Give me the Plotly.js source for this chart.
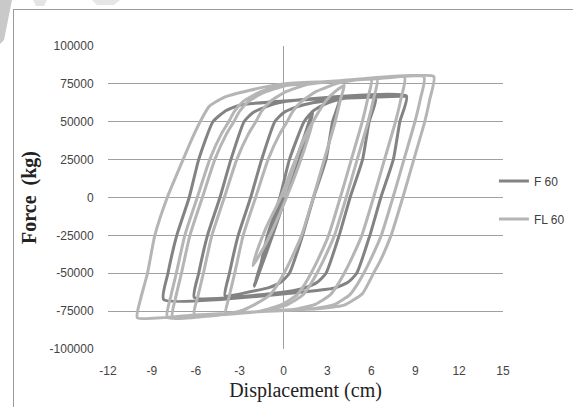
<!DOCTYPE html>
<html>
<head>
<meta charset="utf-8">
<script src="https://cdn.plot.ly/plotly-3.0.1.min.js"></script>
<style>
  html, body { margin: 0; padding: 0; background: #ffffff; }
  #wrap { position: relative; width: 573px; height: 407px; overflow: hidden; }
  #chart { position: absolute; left: 0; top: 0; width: 573px; height: 407px; }
  #frame { position: absolute; left: 13px; top: 9px; width: 700px; height: 500px;
           border-left: 1px solid #9a9a9a; border-top: 1px solid #9a9a9a; pointer-events: none; }
  #deco { position: absolute; left: 0; top: 0; pointer-events: none; }
</style>
</head>
<body>
<div id="wrap">
  <div id="chart"></div>
  <div id="frame"></div>
  <svg id="deco" width="130" height="45">
    <polygon points="0,0 12,0 4,40 0,44" fill="#c9c9c9"/>
    <polygon points="33,0 47,0 44,6 36,6" fill="#e4e4e4"/>
    <polygon points="92,0 120,0 114,5 97,5" fill="#e6e6e6"/>
  </svg>
</div>
<script>
// ---- data ----
const seriesNames = ["F 60", "FL 60"];

const f60X = [
  0, 0.9, 2.0,
  1.8, 1.2, 0.4, -0.4, -1.2, -2.0,
  -1.75, -1.1, -0.3, 0.5, 1.3, 2.0,
  1.75, 1.1, 0.3, -0.5, -1.3, -2.0,
  -1.7, -1.1, -0.25, 0.4, 1.4, 2.0, 2.8, 3.8,
  3.35, 2.9, 2.05, 1.3, 0.4, -0.2, -1.0, -2.2, -4.0,
  -3.7, -3.1, -2.25, -1.5, -0.6, 0.0, 0.8, 2.0, 6.3,
  5.85, 5.4, 4.55, 3.8, 2.9, 2.3, 1.5, 0.3, -6.1,
  -5.8, -5.2, -4.35, -3.6, -2.7, -2.1, -1.3, -0.1, 8.4,
  7.95, 7.5, 6.65, 5.9, 5.0, 4.4, 3.6, 2.4, -8.2,
  -7.9, -7.3, -6.45, -5.8, -4.83, -4.0, -3.0, -1.0, 2.0, 8.4
];
const f60Y = [
  0, 25000, 57000,
  48000, 30000, 8000, -15000, -37000, -58500,
  -50000, -30000, -8000, 15000, 37000, 56000,
  47000, 28000, 5000, -18000, -40000, -58000,
  -50000, -25000, 0, 25000, 50000, 57000, 61500, 64500,
  50000, 25000, 0, -25000, -50000, -56000, -59500, -62000, -64800,
  -50000, -25000, 0, 25000, 50000, 56000, 59500, 62500, 66200,
  50000, 25000, 0, -25000, -50000, -56000, -59500, -62000, -66000,
  -50000, -25000, 0, 25000, 50000, 56000, 59500, 63000, 67000,
  50000, 25000, 0, -25000, -50000, -56000, -59500, -61200, -67300,
  -50000, -25000, 0, 25000, 50000, 57000, 61000, 63000, 64800, 67000
];

const fl60X = [
  0, 0.7, 1.3, 2.0,
  1.7, 1.0, 0.2, -0.6, -1.3, -2.1,
  -1.8, -1.2, -0.2, 0.6, 1.5, 2.3, 3.0, 3.6, 4.15,
  3.9, 3.53, 2.78, 2.03, 1.23, 0.45, 0.03, -0.45, -0.95, -1.95, -3.0, -3.96,
  -3.71, -3.34, -2.76, -1.91, -1.06, -0.26, 0.24, 0.64, 1.24, 2.24, 3.74, 6.0,
  5.75, 5.38, 4.63, 3.88, 3.08, 2.3, 1.88, 1.4, 0.9, -0.1, -1.6, -6.1,
  -5.85, -5.48, -4.9, -4.05, -3.2, -2.4, -1.9, -1.5, -0.9, 0.1, 1.6, 4.0, 6.4,
  6.15, 5.78, 5.03, 4.28, 3.48, 2.7, 2.28, 1.8, 1.3, 0.3, -1.2, -4.0, -7.6,
  -7.35, -6.98, -6.4, -5.55, -4.7, -3.9, -3.4, -3.0, -2.4, -1.4, 0.1, 4.0, 8.27,
  8.02, 7.65, 6.9, 6.15, 5.35, 4.57, 4.15, 3.67, 3.17, 2.17, 0.77, -3.0, -7.95,
  -7.7, -7.33, -6.75, -5.9, -5.05, -4.25, -3.75, -3.35, -2.75, -1.75, -0.25, 4.0, 9.6,
  9.35, 8.98, 8.23, 7.48, 6.68, 5.9, 5.48, 5.0, 4.5, 3.5, 2.1, -2.0, -6.0, -10.0,
  -9.8, -9.3, -8.8, -7.95, -6.87, -6.2, -5.7, -5.1, -4.1, -2.3, 0, 3, 6, 10.27,
  10.0, 9.65, 8.9, 8.15, 7.35, 6.6, 6.15, 5.4, 4.15, 2.5, 0, -3
];
const fl60Y = [
  0, 20000, 37000, 50000,
  40000, 20000, 0, -18000, -32000, -45000,
  -35000, -20000, 0, 20000, 40000, 55000, 65000, 70500, 74000,
  65000, 50000, 25000, 0, -25000, -42000, -50000, -58000, -64500, -70500, -75000, -76300,
  -65000, -50000, -25000, 0, 25000, 42000, 50000, 57000, 63500, 70000, 75500, 78000,
  65000, 50000, 25000, 0, -25000, -42000, -50000, -58000, -64500, -70500, -75000, -77000,
  -65000, -50000, -25000, 0, 25000, 42000, 50000, 57000, 63500, 69500, 74500, 77000, 78100,
  65000, 50000, 25000, 0, -25000, -42000, -50000, -58000, -64500, -70500, -74800, -76700, -79500,
  -65000, -50000, -25000, 0, 25000, 42000, 50000, 57000, 63500, 69000, 73800, 77000, 79400,
  65000, 50000, 25000, 0, -25000, -42000, -50000, -58000, -64500, -70500, -73800, -76200, -79000,
  -65000, -50000, -25000, 0, 25000, 42000, 50000, 57000, 63500, 69000, 74000, 77200, 79600,
  65000, 50000, 25000, 0, -25000, -42000, -50000, -58000, -64500, -70500, -73200, -75500, -77500, -79300,
  -68000, -50000, -25000, 0, 25000, 40000, 50000, 60000, 66000, 70800, 75000, 76500, 78200, 79900,
  65000, 50000, 25000, 0, -25000, -42000, -50000, -63300, -71000, -73200, -74500, -76000
];

const xTickVals = [-12, -9, -6, -3, 0, 3, 6, 9, 12, 15];
const xTickText = ["-12", "-9", "-6", "-3", "0", "3", "6", "9", "12", "15"];
const yTickVals = [-100000, -75000, -50000, -25000, 0, 25000, 50000, 75000, 100000];
const yTickText = ["-100000", "-75000", "-50000", "-25000", "0", "25000", "50000", "75000", "100000"];

// ---- chart ----
const tickFont = { family: "Liberation Sans, Arial, sans-serif", size: 12, color: "#444444" };

const traces = [
  {
    x: f60X, y: f60Y, name: seriesNames[0], type: "scatter", mode: "lines",
    legendgroup: "a",
    line: { color: "#838383", width: 3, shape: "spline", smoothing: 0.5 }
  },
  {
    x: fl60X, y: fl60Y, name: seriesNames[1], type: "scatter", mode: "lines",
    legendgroup: "b",
    line: { color: "#b5b5b5", width: 3, shape: "spline", smoothing: 0.5 }
  }
];

const layout = {
  width: 573, height: 407,
  margin: { l: 108, r: 70, t: 46, b: 58, autoexpand: false },
  paper_bgcolor: "rgba(0,0,0,0)",
  plot_bgcolor: "rgba(0,0,0,0)",
  showlegend: true,
  legend: {
    x: 0.977, xanchor: "left", y: 0.602, yanchor: "top",
    font: { family: "Liberation Sans, Arial, sans-serif", size: 12, color: "#404040" },
    traceorder: "grouped", tracegroupgap: 19,
    bgcolor: "rgba(0,0,0,0)"
  },
  xaxis: {
    range: [-12, 15], fixedrange: true,
    tickmode: "array", tickvals: xTickVals, ticktext: xTickText,
    ticks: "outside", ticklen: 11, tickcolor: "rgba(0,0,0,0)",
    showgrid: false, showline: false,
    zeroline: true, zerolinecolor: "#a0a0a0", zerolinewidth: 1,
    tickfont: tickFont,
    title: { text: "Displacement (cm)", font: { family: "Liberation Serif, Times New Roman, serif", size: 20, color: "#222222" }, standoff: 5 }
  },
  yaxis: {
    range: [-100000, 100000], fixedrange: true,
    tickmode: "array", tickvals: yTickVals, ticktext: yTickText,
    ticks: "outside", ticklen: 11, tickcolor: "rgba(0,0,0,0)",
    showgrid: true, gridcolor: "#a0a0a0", gridwidth: 1,
    showline: false, zeroline: false,
    tickfont: tickFont,
    title: { text: "<b>Force  (kg)</b>", font: { family: "Liberation Serif, Times New Roman, serif", size: 20, color: "#222222" }, standoff: 7 }
  }
};

Plotly.newPlot("chart", traces, layout, { displayModeBar: false, staticPlot: true });
</script>
</body>
</html>
